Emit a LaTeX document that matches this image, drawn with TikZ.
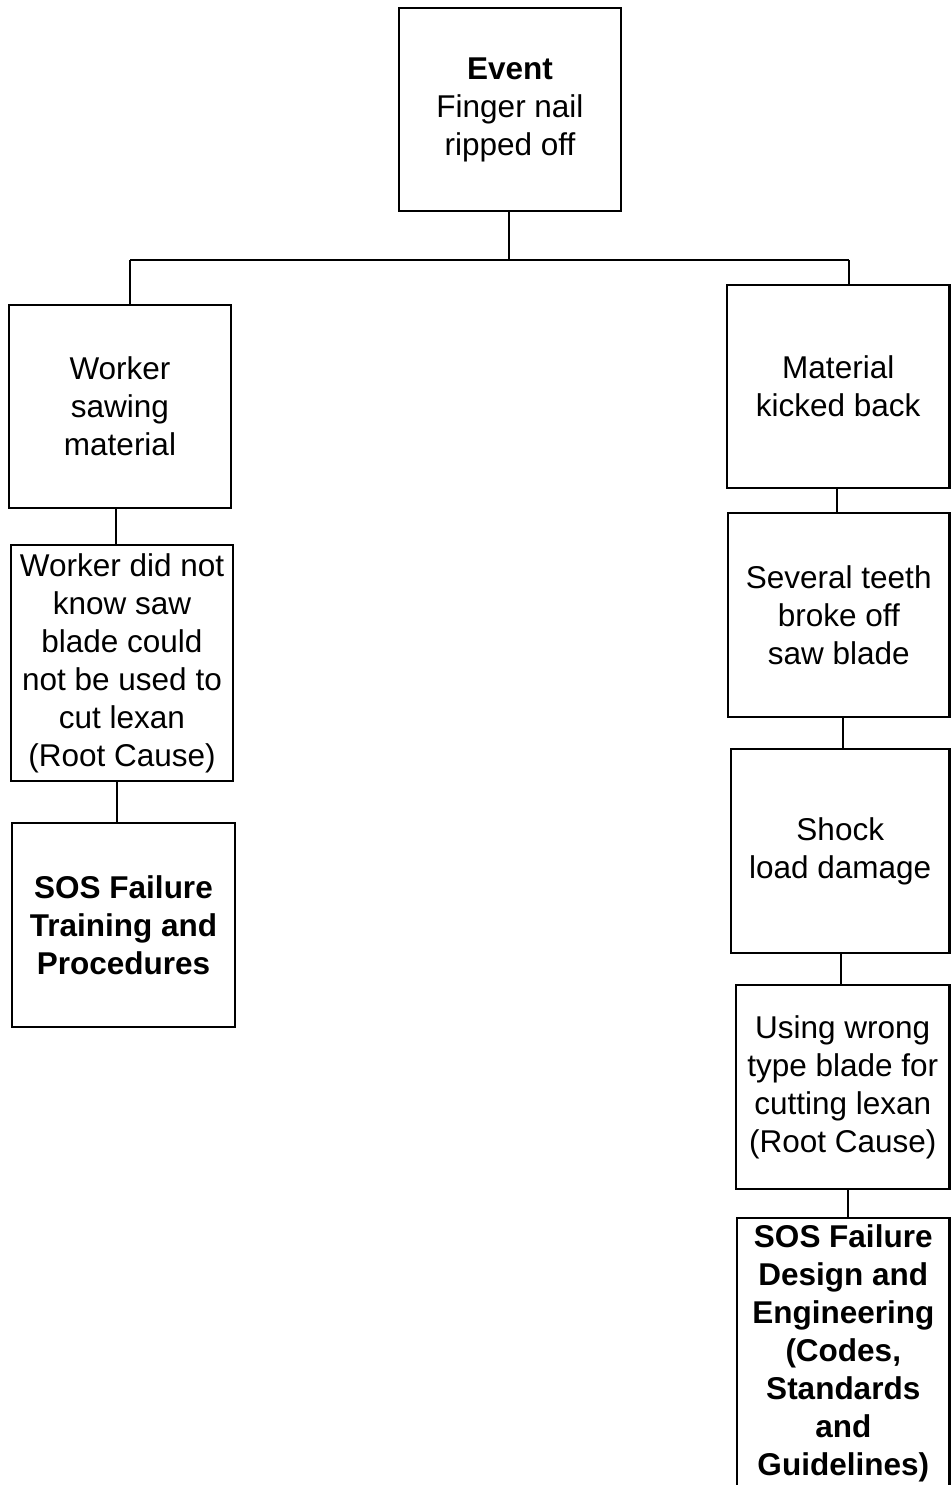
\documentclass[tikz,border=0pt]{standalone}
\usepackage{fontspec}
\setmainfont{Liberation Sans}
\begin{document}
\begin{tikzpicture}[x=1pt,y=-1pt,
  box/.style={draw=black, line width=2.5pt, rectangle, inner sep=0pt, align=center,
    font=\fontsize{31.5}{38}\selectfont},
  conn/.style={draw=black, line width=2.5pt}]
\useasboundingbox (0,0) rectangle (951,1485);
% boxes: centre = ((x1+x2)/2,(y1+y2)/2), size = (x2-x1, y2-y1)
\node[box, minimum width=222pt, minimum height=203pt] (ev) at (510,109.5)
  {\textbf{Event}\\Finger nail\\ripped off};
\node[box, minimum width=222pt, minimum height=203pt] (w1) at (120,406.5)
  {Worker\\sawing\\material};
\node[box, minimum width=222.5pt, minimum height=203pt] (m1) at (838.25,386.5)
  {Material\\kicked back};
\node[box, minimum width=222pt, minimum height=236pt] (w2) at (122,663)
  {Worker did not\\know saw\\blade could\\not be used to\\cut lexan\\(Root Cause)};
\node[box, minimum width=221.5pt, minimum height=204pt] (m2) at (838.75,615)
  {Several teeth\\broke off\\saw blade};
\node[box, minimum width=223pt, minimum height=204pt] (w3) at (123.5,925)
  {\textbf{SOS Failure}\\\textbf{Training and}\\\textbf{Procedures}};
\node[box, minimum width=218.5pt, minimum height=204pt] (m3) at (840.25,851)
  {Shock\\load damage};
\node[box, minimum width=213.5pt, minimum height=204pt] (m4) at (842.75,1087)
  {Using wrong\\type blade for\\cutting lexan\\(Root Cause)};
\node[box, minimum width=212.5pt, minimum height=270pt] (m5) at (843.25,1353)
  {\textbf{SOS Failure}\\\textbf{Design and}\\\textbf{Engineering}\\\textbf{(Codes,}\\\textbf{Standards}\\\textbf{and}\\\textbf{Guidelines)}};
% connectors
\coordinate (j) at (509,260);
\coordinate (jl) at (130,260);
\coordinate (jr) at (849,260);
\draw[conn] (ev.south -| j) -- (j);
\draw[conn] (jl) -- (jr);
\draw[conn] (jl) -- (jl |- w1.north);
\draw[conn] (jr) -- (jr |- m1.north);
\draw[conn] (w1.south -| 116,0) -- (w2.north -| 116,0);
\draw[conn] (w2.south -| 117,0) -- (w3.north -| 117,0);
\draw[conn] (m1.south -| 837,0) -- (m2.north -| 837,0);
\draw[conn] (m2.south -| 843,0) -- (m3.north -| 843,0);
\draw[conn] (m3.south -| 841,0) -- (m4.north -| 841,0);
\draw[conn] (m4.south -| 848,0) -- (m5.north -| 848,0);
\end{tikzpicture}
\end{document}
